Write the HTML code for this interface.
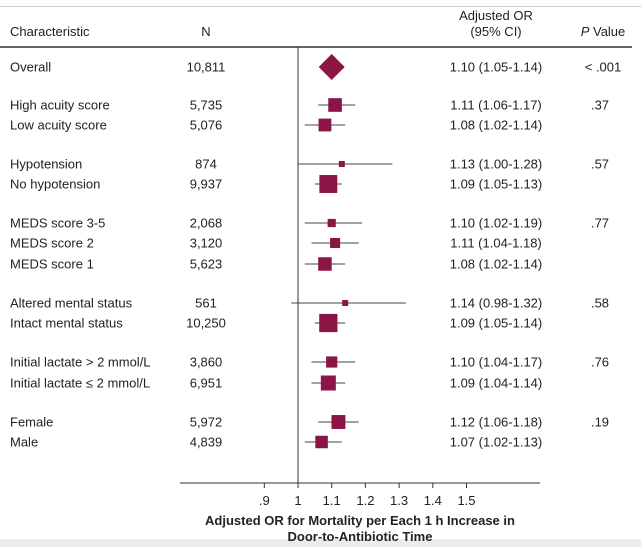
<!DOCTYPE html>
<html><head><meta charset="utf-8"><style>
body{margin:0;background:#fff;}
svg{display:block;font-family:"Liberation Sans",Arial,sans-serif;}
</style></head><body>
<svg width="641" height="547" id="chart">
<rect x="0" y="539" width="641" height="8" fill="#ececec"/>
<line x1="0" y1="6.5" x2="641" y2="6.5" stroke="#ccc" stroke-width="1"/>
<line x1="0" y1="47" x2="632" y2="47" stroke="#666" stroke-width="2"/>
<g font-size="13" fill="#222">
<text x="10" y="36">Characteristic</text>
<text x="206" y="36" text-anchor="middle">N</text>
<text x="496" y="20" text-anchor="middle">Adjusted OR</text>
<text x="496" y="36" text-anchor="middle">(95% CI)</text>
<text x="603" y="36" text-anchor="middle"><tspan font-style="italic">P</tspan> Value</text>
</g>
<g id="rows" font-size="13" fill="#222"></g>
<g id="marks"></g>
<line x1="180" y1="483" x2="540" y2="483" stroke="#333" stroke-width="1"/>
<g id="ticks" font-size="13" fill="#222"></g>
<text x="360" y="525" text-anchor="middle" font-size="13" font-weight="bold" fill="#222">Adjusted OR for Mortality per Each 1 h Increase in</text>
<text x="360" y="541" text-anchor="middle" font-size="13" font-weight="bold" fill="#222">Door-to-Antibiotic Time</text>
</svg>
<script>
const labels=["Overall","High acuity score","Low acuity score","Hypotension","No hypotension","MEDS score 3-5","MEDS score 2","MEDS score 1","Altered mental status","Intact mental status","Initial lactate > 2 mmol/L","Initial lactate \u2264 2 mmol/L","Female","Male"];
const nValues=[10811,5735,5076,874,9937,2068,3120,5623,561,10250,3860,6951,5972,4839];
const orValues=[1.10,1.11,1.08,1.13,1.09,1.10,1.11,1.08,1.14,1.09,1.10,1.09,1.12,1.07];
const lowValues=[1.05,1.06,1.02,1.00,1.05,1.02,1.04,1.02,0.98,1.05,1.04,1.04,1.06,1.02];
const highValues=[1.14,1.17,1.14,1.28,1.13,1.19,1.18,1.14,1.32,1.14,1.17,1.14,1.18,1.13];
const pValues=["< .001",".37","",".57","",".77","","",".58","",".76","",".19",""];
const rowY=[67,105,125,164,184,223,243,264,303,323,362,383,422,442];
const tickValues=[0.9,1,1.1,1.2,1.3,1.4,1.5];
const tickLabels=[".9","1","1.1","1.2","1.3","1.4","1.5"];
const NS="http://www.w3.org/2000/svg";
function xs(v){return 298+(v-1)*337;}
function mk(tag,attrs,parent){const e=document.createElementNS(NS,tag);for(const k in attrs)e.setAttribute(k,attrs[k]);parent.appendChild(e);return e;}
const rows=document.getElementById('rows'),marks=document.getElementById('marks'),ticks=document.getElementById('ticks');
const ref=mk('line',{x1:xs(1),y1:47,x2:xs(1),y2:483,stroke:'#333','stroke-width':1},marks);


const fmt=v=>v.toFixed(2);
labels.forEach((lab,i)=>{
 const y=rowY[i];
 let t=mk('text',{x:10,y:y+4.5},rows);t.textContent=lab;
 
 
 t=mk('text',{x:206,y:y+4.5,'text-anchor':'middle'},rows);t.textContent=nValues[i].toLocaleString('en-US');
 
 
 t=mk('text',{x:496,y:y+4.5,'text-anchor':'middle'},rows);t.textContent=fmt(orValues[i])+' ('+fmt(lowValues[i])+'-'+fmt(highValues[i])+')';
 
 
 if(pValues[i]){t=mk('text',{x:i==0?603:600,y:y+4.5,'text-anchor':'middle'},rows);t.textContent=pValues[i];
 
 }
 const cx=xs(orValues[i]);
 if(i===0){
  const p=mk('polygon',{points:`${cx-13},${y} ${cx},${y-13} ${cx+13},${y} ${cx},${y+13}`,fill:'#8b1646'},marks);
  
  
 } else {
  const l=mk('line',{x1:xs(lowValues[i]),y1:y,x2:xs(highValues[i]),y2:y,stroke:'#444','stroke-width':1},marks);
  
  
  const s=Math.max(6,0.18*Math.sqrt(nValues[i]));
  const r=mk('rect',{x:cx-s/2,y:y-s/2,width:s,height:s,fill:'#8b1646'},marks);
  
  
 }
});
tickValues.forEach((v,i)=>{
 const tl=mk('line',{x1:xs(v),y1:483,x2:xs(v),y2:488,stroke:'#333'},ticks);
 
 
 const t=mk('text',{x:xs(v),y:505,'text-anchor':'middle'},ticks);t.textContent=tickLabels[i];
 
 
});
</script>
</body></html>
